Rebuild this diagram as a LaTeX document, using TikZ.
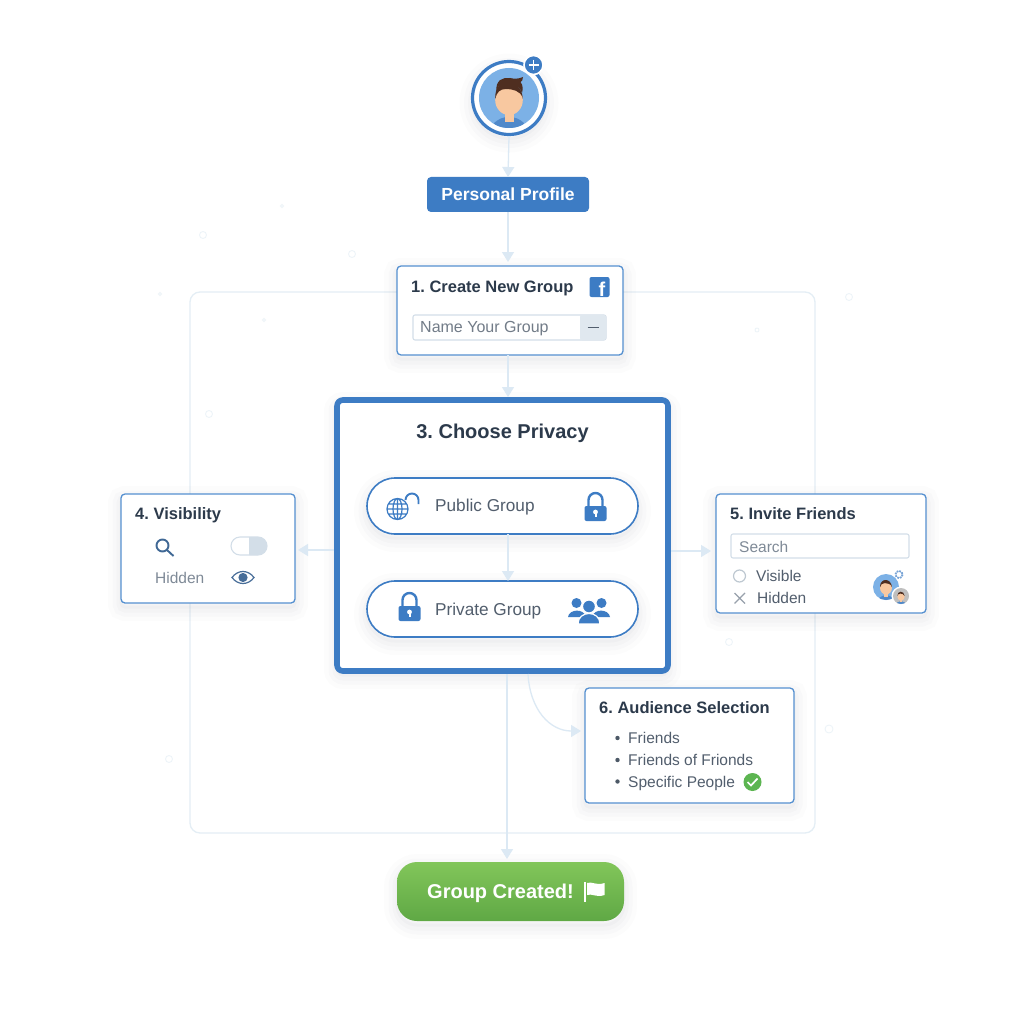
\documentclass[tikz,border=0pt]{standalone}
\usepackage{fontspec}
\setmainfont{Liberation Sans}
\frenchspacing
\usetikzlibrary{arrows.meta}
\definecolor{mainblue}{HTML}{3D7CC4}
\definecolor{cardblue}{HTML}{5590D0}
\definecolor{discblue}{HTML}{7CB1E6}
\definecolor{flowblue}{HTML}{DCE9F4}
\definecolor{frameblue}{HTML}{E4EEF5}
\definecolor{inkdark}{HTML}{2C3A4B}
\definecolor{inkgray}{HTML}{525E6D}
\definecolor{inklight}{HTML}{7F8A97}
\definecolor{fieldline}{HTML}{D3DEE8}
\definecolor{okgreen}{HTML}{5CB551}
\definecolor{btntop}{HTML}{82C65A}
\definecolor{btnbottom}{HTML}{5FA845}
\definecolor{skin}{HTML}{F8C8A0}
\definecolor{hair}{HTML}{4F2E20}
\tikzstyle{softshadow} = [
	preaction={draw=inkdark, draw opacity=.012, line width=26pt, transform canvas={yshift=-5pt}},
	preaction={draw=inkdark, draw opacity=.016, line width=17pt, transform canvas={yshift=-5pt}},
	preaction={draw=inkdark, draw opacity=.02, line width=9pt, transform canvas={yshift=-5pt}},
	preaction={draw=inkdark, draw opacity=.024, line width=3pt, transform canvas={yshift=-4pt}}]
\tikzstyle{card} = [rectangle, rounded corners=4pt, draw=cardblue, line width=1.3pt, fill=white, outer sep=0pt, softshadow]
\tikzstyle{pill} = [rectangle, rounded corners=28pt, draw=mainblue, line width=1.6pt, fill=white, minimum width=271pt, minimum height=56pt, outer sep=0pt, softshadow]
\tikzstyle{flow} = [draw=flowblue, line width=1.3pt, -{Triangle[length=10pt,width=12pt,fill=flowblue]}]
\tikzstyle{cardtitle} = [anchor=west, inner sep=0pt, text height=11.9pt, text depth=0pt, text=inkdark, font=\fontsize{16.5}{20}\selectfont\bfseries]
\tikzstyle{cardtext} = [anchor=west, inner sep=0pt, text height=11.1pt, text depth=0pt, text=inkgray, font=\fontsize{15.5}{18}\selectfont]
\tikzstyle{pilltext} = [anchor=west, inner sep=0pt, text height=12.4pt, text depth=0pt, text=inkgray, font=\fontsize{17.2}{20}\selectfont]
\tikzstyle{bulletdot} = [circle, fill=inkdark!85, inner sep=0pt, minimum size=4.4pt]
\newcommand{\padlock}[1]{\begin{scope}[shift={(#1)}]
	\draw[mainblue, line width=2.4pt] (-7,0) -- (-7,-7) arc[start angle=180, end angle=360, radius=7] -- (7,0);
	\fill[mainblue, rounded corners=2pt] (-11,-1) rectangle (11,14);
	\fill[white] (0,5) circle (2.4);
	\fill[white] (-1,5) rectangle (1,10);
	\end{scope}}
\newcommand{\headicon}[3]{\begin{scope}[shift={(#1)}, scale=#2]
	\fill[#3] (0,0) circle (1);
	\clip (0,0) circle (1);
	\fill[mainblue!90] (0,1.28) ellipse (.68 and .65);
	\fill[skin] (-.15,.4) rectangle (.15,.8);
	\fill[skin] (0,.07) ellipse (.46 and .5);
	\fill[hair] (-.46,.02) .. controls (-.5,-.7) and (.4,-.75) .. (.46,.02) .. controls (.4,-.25) and (.1,-.3) .. (-.1,-.3) .. controls (-.3,-.3) and (-.4,-.2) .. (-.46,.02) -- cycle;
	\end{scope}}
\begin{document}
\begin{tikzpicture}[x=1pt, y=-1pt]
	\useasboundingbox (0,0) rectangle (1024,1024);
	\fill[white] (0,0) rectangle (1024,1024);
	% faint specks behind the flow
	\foreach \px/\py/\pr in {282/206/1.5, 203/235/3.5, 352/254/3.5, 160/294/1.5, 264/320/1.5, 757/330/2, 849/297/3.5, 209/414/3.5, 729/642/3.5, 829/729/4, 169/759/3.5, 398/488/1.5}
		\draw[frameblue!70, line width=.8pt] (\px,\py) circle (\pr);
	\node[draw=frameblue, line width=1.3pt, rounded corners=10pt, minimum width=625pt, minimum height=541pt, outer sep=0pt] (frame) at (502.5,562.5) {};

	% profile
	\node[circle, draw=mainblue, line width=3.2pt, fill=white, minimum size=73pt, inner sep=0pt, outer sep=1.6pt, softshadow] (avatar) at (509,98) {};
	\headicon{509,98}{30}{discblue}
	\fill[hair] (496.5,92) .. controls (495,80) and (503,77) .. (510,78) .. controls (514,79) and (519,79) .. (523,77) .. controls (523,80) and (522,81) .. (520.5,82) .. controls (523,85) and (523,89) .. (522,93) .. controls (520,88) and (518,86) .. (516,85) .. controls (510,87) and (502,86) .. (499,86) .. controls (498,88) and (497,89) .. (496.5,92) -- cycle;
	\node[circle, fill=mainblue, draw=white, line width=1.6pt, minimum size=19pt, inner sep=0pt] (plus) at (533.5,65) {};
	\draw[white, line width=1.5pt] (528.5,65) -- (538.5,65) (533.5,60) -- (533.5,70);
	\node[rectangle, rounded corners=4pt, fill=mainblue, minimum width=162pt, minimum height=35pt, outer sep=0pt, text=white, inner sep=0pt, font=\fontsize{17.5}{20}\selectfont\bfseries] (profile) at (508,194.5) {Personal Profile};

	% step 1
	\node[card, minimum width=226pt, minimum height=89pt] (create) at (510,310.5) {};
	\node[cardtitle] (createtitle) at (411,287) {1. Create New Group};
	\node[rectangle, rounded corners=2pt, fill=mainblue, minimum size=20pt, inner sep=0pt] (fbicon) at (599.5,287) {};
	\node[inner sep=0pt, text=white, font=\fontsize{20}{20}\selectfont\bfseries] (fbf) at (602,289) {f};
	\node[rectangle, rounded corners=2pt, draw=fieldline, line width=1.1pt, fill=white, minimum width=193pt, minimum height=25pt, outer sep=0pt] (namefield) at (509.5,327.5) {};
	\fill[fieldline!70, rounded corners=2pt] (580,315) -- (606,315) -- (606,340) -- (580,340) -- cycle;
	\node[cardtext, text=inklight!90!black, text height=11.5pt, font=\fontsize{16}{18}\selectfont] (nametext) at (420,327) {Name Your Group};
	\draw[inkgray, line width=1.8pt] (587.5,327.5) -- (598.5,327.5);

	% step 3
	\node[rectangle, rounded corners=6pt, draw=mainblue, line width=5.6pt, fill=white, minimum width=331pt, minimum height=271pt, outer sep=0pt, softshadow] (privacy) at (502.5,535.5) {};
	\node[inner sep=0pt, text height=14.4pt, text depth=0pt, text=inkdark, font=\fontsize{20}{22}\selectfont\bfseries] (privacytitle) at (502.5,431) {3. Choose Privacy};
	\node[pill] (public) at (502.5,506) {};
	\node[pill] (private) at (502.5,609) {};
	\node[pilltext] (publictext) at (435,505.5) {Public Group};
	\node[pilltext] (privatetext) at (435,609.5) {Private Group};
	% globe with open shackle
	\begin{scope}[shift={(397.5,509)}]
		\draw[mainblue, line width=1.2pt] (0,0) circle (10.5) (-10.5,0) -- (10.5,0) (-9,-5) -- (9,-5) (-9,5) -- (9,5) (0,0) ellipse (4.5 and 10.5) (0,-10.5) -- (0,10.5);
		\draw[mainblue, line width=1.9pt] (8,-9) arc[start angle=180, end angle=360, radius=6.5] -- (21,-5);
	\end{scope}
	\padlock{595.5,507}
	\padlock{409.5,607}
	% group of three people
	\begin{scope}[shift={(589,610)}, mainblue]
		\fill (-12.5,-7) circle (5) (12.5,-7) circle (5);
		\fill (-21,7) .. controls (-20,-1) and (-5,-2) .. (-3,7) -- cycle;
		\fill (21,7) .. controls (20,-1) and (5,-2) .. (3,7) -- cycle;
		\draw[white, line width=1.2pt, fill=mainblue] (0,-3.5) circle (6.5);
		\draw[white, line width=1.2pt, fill=mainblue] (-11,14) .. controls (-11,0) and (11,0) .. (11,14) -- cycle;
	\end{scope}

	% step 4
	\node[card, minimum width=174pt, minimum height=109pt] (visibility) at (208,548.5) {};
	\node[cardtitle] (visibilitytitle) at (135,513.5) {4. Visibility};
	\draw[mainblue!70!black!90, line width=1.9pt] (162.5,545.5) circle (6) (167,550) -- (173.5,556);
	\fill[fieldline] (249,537) -- (258,537) arc[start angle=-90, end angle=90, radius=9] -- (249,555) -- cycle;
	\node[rectangle, rounded corners=9pt, draw=fieldline, line width=1.1pt, minimum width=36pt, minimum height=18pt] (toggle) at (249,546) {};
	\node[cardtext, text=inklight] (hiddenleft) at (155,577.5) {Hidden};
	\draw[mainblue!50!inkgray, line width=1.2pt] (232,577.5) .. controls (238,569.5) and (248,569.5) .. (254,577.5) .. controls (248,585.5) and (238,585.5) .. (232,577.5) -- cycle;
	\fill[mainblue!50!inkgray] (243,577.5) circle (4.6);

	% step 5
	\node[card, minimum width=210pt, minimum height=119pt] (invite) at (821,553.5) {};
	\node[cardtitle] (invitetitle) at (730,513.5) {5. Invite Friends};
	\node[rectangle, rounded corners=2pt, draw=fieldline, line width=1.1pt, fill=white, minimum width=178pt, minimum height=24pt] (search) at (820,546) {};
	\node[cardtext, text=inklight] (searchtext) at (739,547) {Search};
	\node[circle, draw=fieldline!90!black, line width=1.2pt, minimum size=12pt, inner sep=0pt] (radio) at (739.5,576) {};
	\node[cardtext] (visibletext) at (756,576) {Visible};
	\draw[inklight!80, line width=1.3pt] (734.5,593) -- (745,603.5) (745,593) -- (734.5,603.5);
	\node[cardtext] (hiddenright) at (757,597.5) {Hidden};
	\headicon{886,587}{13}{discblue}
	\fill[white] (901,596) circle (9.5);
	\headicon{901,596}{8}{gray!50}
	\draw[mainblue!70, line width=1.8pt, dash pattern=on 1.8pt off 1pt] (899,574.5) circle (3.6);

	% step 6
	\node[card, minimum width=209pt, minimum height=115pt] (audience) at (689.5,745.5) {};
	\node[cardtitle] (audiencetitle) at (599,707.5) {6. Audience Selection};
	\foreach \ly/\lname/\ltext in {738/friends/Friends, 760/fof/Friends of Frionds, 781.5/specific/Specific People} {
		\node[bulletdot] (dot\lname) at (617.5,\ly) {};
		\node[cardtext] (\lname) at (628,\ly) {\ltext};
	}
	\node[circle, fill=okgreen, minimum size=18pt, inner sep=0pt] (okmark) at (752.5,782) {};
	\draw[white, line width=1.7pt] (747.5,782) -- (751,785.5) -- (757.5,778.5);

	% result
	\node[rectangle, rounded corners=20pt, minimum width=227pt, minimum height=59pt, outer sep=0pt, top color=btntop, bottom color=btnbottom, softshadow] (created) at (510.5,891.5) {};
	\node[inner sep=0pt, anchor=west, text height=14.4pt, text depth=0pt, text=white, font=\fontsize{20}{22}\selectfont\bfseries] (createdtext) at (427,891) {Group Created!};
	\draw[white, line width=1.4pt] (585,882) -- (585,902);
	\fill[white] (587,883) .. controls (592,881) and (596,886) .. (604.5,883) -- (604.5,895) .. controls (596,898) and (592,893) .. (587,895) -- cycle;

	% flow
	\coordinate (privacytop) at (508,397);
	\coordinate (privacyleft) at (334,550);
	\coordinate (visibilityright) at (298,550);
	\coordinate (privacyright) at (671,551);
	\coordinate (inviteleft) at (711,551);
	\coordinate (privacydown) at (507,674);
	\coordinate (createdtop) at (507,859);
	\coordinate (privacycurve) at (528,674);
	\coordinate (audienceleft) at (581,731);
	\draw[flow] (avatar.south) -- (profile.north);
	\draw[flow] (profile.south) -- (508,262);
	\draw[flow] (508,355) -- (privacytop);
	\draw[flow] (public.south -| 508,0) -- (private.north -| 508,0);
	\draw[flow] (privacyleft) -- (visibilityright);
	\draw[flow] (privacyright) -- (inviteleft);
	\draw[flow] (privacydown) -- (createdtop);
	\draw[flow] (privacycurve) .. controls (530,710) and (550,731) .. (audienceleft);
\end{tikzpicture}
\end{document}
